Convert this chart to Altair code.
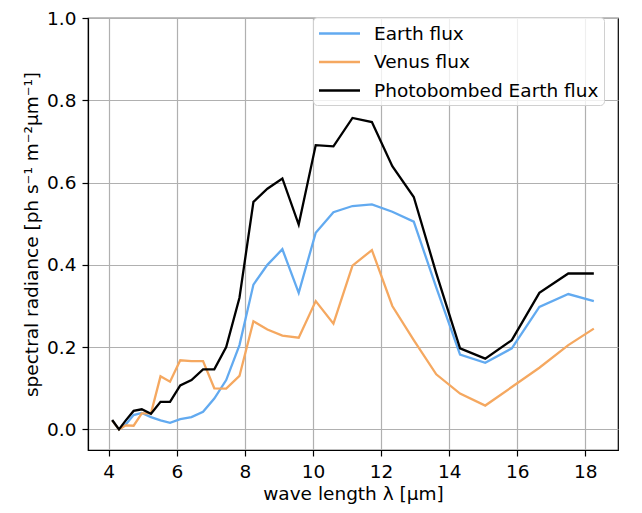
import altair as alt
import pandas as pd

wavelength = [4.1, 4.3, 4.5, 4.73, 4.97, 5.24, 5.52, 5.8, 6.1, 6.43, 6.77, 7.1, 7.45,
              7.84, 8.25, 8.66, 9.1, 9.58, 10.08, 10.6, 11.16, 11.73, 12.33, 12.96,
              13.62, 14.32, 15.06, 15.84, 16.65, 17.5, 18.25]

earth_flux = [0.022, 0.0, 0.012, 0.035, 0.04, 0.03, 0.022, 0.016, 0.025, 0.03, 0.043,
              0.075, 0.12, 0.205, 0.352, 0.400, 0.438, 0.332, 0.478, 0.528, 0.543,
              0.547, 0.529, 0.505, 0.345, 0.182, 0.162, 0.197, 0.298, 0.329, 0.312]

venus_flux = [0.022, 0.0, 0.01, 0.009, 0.039, 0.039, 0.129, 0.116, 0.168, 0.166, 0.166,
              0.1, 0.099, 0.13, 0.263, 0.243, 0.228, 0.223, 0.312, 0.257, 0.398,
              0.436, 0.3, 0.217, 0.134, 0.087, 0.058, 0.103, 0.15, 0.205, 0.245]

photobombed_flux = [0.023, 0.0, 0.022, 0.045, 0.049, 0.038, 0.067, 0.067, 0.107, 0.12,
                    0.146, 0.146, 0.2, 0.32, 0.553, 0.585, 0.61, 0.498, 0.691, 0.688,
                    0.757, 0.747, 0.64, 0.565, 0.38, 0.197, 0.172, 0.217, 0.332, 0.379,
                    0.379]

series_names = ["Earth flux", "Venus flux", "Photobombed Earth flux"]
series_colors = ["#62aaf0", "#f5a860", "#000000"]
x_ticks = [4, 6, 8, 10, 12, 14, 16, 18]
y_ticks = [0.0, 0.2, 0.4, 0.6, 0.8, 1.0]

rows = []
for name, vals in zip(series_names, [earth_flux, venus_flux, photobombed_flux]):
    for x, v in zip(wavelength, vals):
        rows.append({"wavelength": x, "flux": v, "series": name})
df = pd.DataFrame(rows)

font = "DejaVu Sans"
fs = 18.5

base = alt.Chart(df).mark_line(strokeWidth=2.3).encode(
    x=alt.X("wavelength:Q",
            scale=alt.Scale(domain=[3.39, 18.96], nice=False, zero=False),
            axis=alt.Axis(values=x_ticks, title="wave length λ [μm]", format="d")),
    y=alt.Y("flux:Q",
            scale=alt.Scale(domain=[-0.05, 1.0], nice=False, zero=False),
            axis=alt.Axis(values=y_ticks, format=".1f",
                          title="spectral radiance [ph s⁻¹ m⁻²μm⁻¹]")),
    color=alt.Color("series:N",
                    scale=alt.Scale(domain=series_names, range=series_colors),
                    legend=alt.Legend(title=None, orient="none", legendX=225, legendY=-1,
                                      symbolType="M-2,0L2,0", symbolSize=420,
                                      symbolStrokeWidth=2.3, symbolOffset=10,
                                      labelFontSize=fs, labelFont=font,
                                      labelColor="#000000", labelLimit=0,
                                      labelOffset=23, rowPadding=7.5, padding=5,
                                      fillColor="rgba(255,255,255,0.8)",
                                      strokeColor="#d0d0d0", cornerRadius=4)),
)

layers = [base.transform_filter(alt.datum.series == n) for n in series_names]

chart = alt.layer(*layers).properties(
    width=530, height=432,
    autosize=alt.AutoSizeParams(type="none"),
    padding={"left": 80, "top": 10, "right": 8, "bottom": 55},
).configure(font=font).configure_axis(
    labelFont=font, labelFontSize=fs, labelColor="#000000",
    titleFont=font, titleFontSize=fs, titleColor="#000000", titleFontWeight="normal",
    grid=True, gridColor="#b0b0b0", gridWidth=1.2,
    domainColor="#000000", domainWidth=1.2,
    tickColor="#000000", tickWidth=1.2, tickSize=6, labelPadding=6,
).configure_axisX(titlePadding=4).configure_axisY(titlePadding=5).configure_view(
    stroke="#000000", strokeWidth=1.2
)

chart.save("out.html", embed_options={"renderer": "svg", "actions": False})
